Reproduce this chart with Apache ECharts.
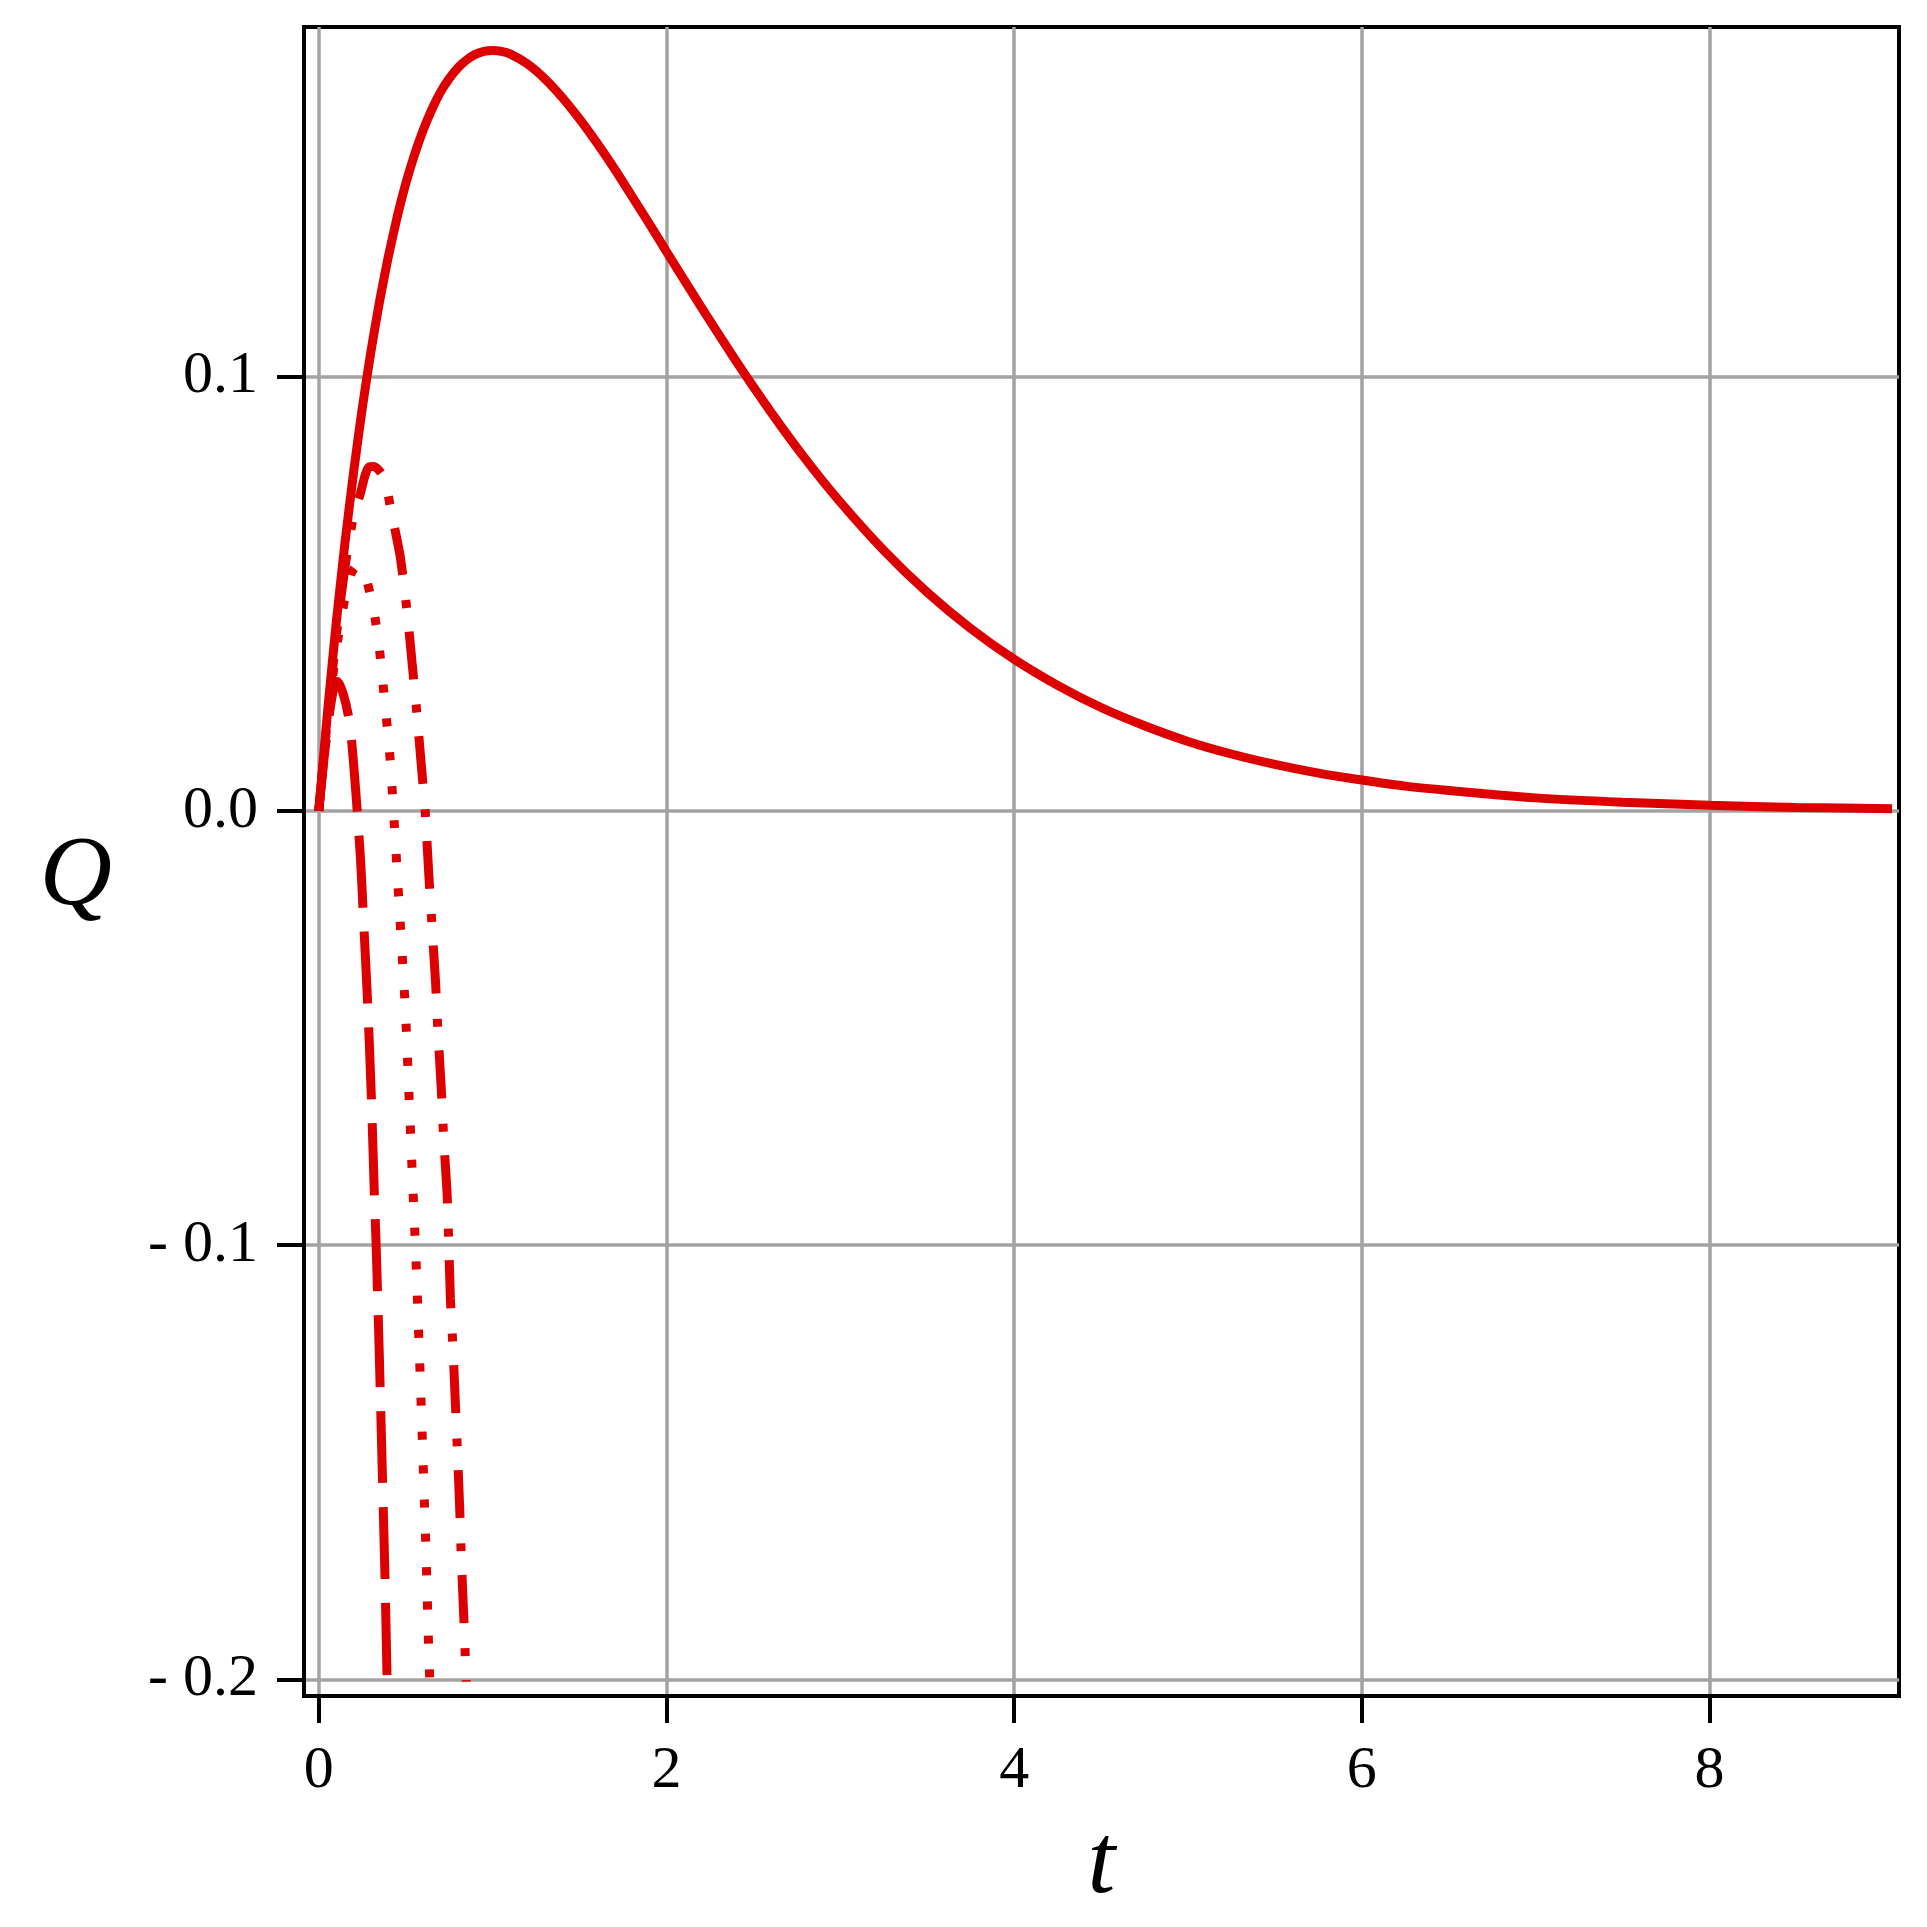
<!DOCTYPE html>
<html>
<head>
<meta charset="utf-8">
<script src="https://cdn.jsdelivr.net/npm/echarts@6/dist/echarts.min.js"></script>
<style>
  html, body { margin: 0; padding: 0; background: #fff; }
  #chart { width: 1927px; height: 1927px; }
</style>
</head>
<body>
<div id="chart"></div>
<script>
// values
const xTicks = [0, 2, 4, 6, 8]
const yTicks = [-0.2, -0.1, 0, 0.1]

const solidT = [0, 0.05, 0.1, 0.15, 0.2, 0.25, 0.3, 0.35, 0.4, 0.45, 0.5, 0.55, 0.6, 0.65, 0.7, 0.75, 0.8, 0.85, 0.9, 0.95,
  1.0, 1.05, 1.1, 1.2, 1.3, 1.4, 1.5, 1.6, 1.7, 1.8, 1.9, 2.0, 2.2, 2.4, 2.6, 2.8, 3.0, 3.25, 3.5, 3.75, 4.0,
  4.25, 4.5, 4.75, 5.0, 5.25, 5.5, 5.75, 6.0, 6.25, 6.5, 7.0, 7.5, 8.0, 8.5, 9.05]
const solidQ = [0, 0.0226, 0.0431, 0.0615, 0.0779, 0.0927, 0.1058, 0.1174, 0.1276, 0.1366, 0.1444, 0.151, 0.1567, 0.1615, 0.1655, 0.1686, 0.1711, 0.1729, 0.1742, 0.1749,
  0.1751, 0.1749, 0.1743, 0.172, 0.1686, 0.1643, 0.1593, 0.1538, 0.1479, 0.1416, 0.1353, 0.1288, 0.116, 0.1036, 0.0919, 0.081, 0.0711, 0.06, 0.0503, 0.042, 0.0349,
  0.0289, 0.0238, 0.0196, 0.016, 0.0131, 0.0107, 0.0087, 0.0071, 0.0057, 0.0047, 0.003, 0.002, 0.0013, 0.0008, 0.0005]

const dashT = [0, 0.03, 0.06, 0.085, 0.11, 0.14, 0.17, 0.19, 0.205, 0.221, 0.24, 0.255, 0.282, 0.303, 0.32, 0.33, 0.348, 0.364, 0.38, 0.393]
const dashQ = [0, 0.012, 0.022, 0.028, 0.0298, 0.027, 0.022, 0.0156, 0.0085, 0, -0.011, -0.023, -0.045, -0.0665, -0.0888, -0.1, -0.125, -0.15, -0.175, -0.2]

const dotT = [0, 0.05, 0.1, 0.15, 0.19, 0.22, 0.25, 0.27, 0.295, 0.316, 0.345, 0.365, 0.384, 0.403, 0.417, 0.43,
  0.464, 0.499, 0.523, 0.548, 0.556, 0.578, 0.598, 0.617, 0.633, 0.64]
const dotQ = [0, 0.021, 0.037, 0.049, 0.055, 0.0565, 0.0555, 0.054, 0.05, 0.0463, 0.0386, 0.031, 0.0233, 0.0156, 0.008, 0,
  -0.0229, -0.0464, -0.0695, -0.093, -0.1, -0.124, -0.1475, -0.171, -0.194, -0.2016]

const dashDotT = [0, 0.05, 0.1, 0.15, 0.2, 0.24, 0.268, 0.29, 0.316, 0.34, 0.365, 0.39, 0.412, 0.44, 0.47, 0.508, 0.537, 0.566,
  0.591, 0.612, 0.633, 0.652, 0.671, 0.686, 0.704, 0.719, 0.738, 0.748, 0.757, 0.773, 0.786, 0.799, 0.811, 0.821, 0.834, 0.848]
const dashDotQ = [0, 0.0215, 0.04, 0.056, 0.068, 0.0732, 0.0775, 0.0792, 0.0793, 0.0787, 0.0774, 0.0745, 0.07, 0.0645, 0.0582, 0.0459, 0.034, 0.0217,
  0.0099, 0, -0.0147, -0.027, -0.0389, -0.0512, -0.0635, -0.0757, -0.088, -0.0999, -0.1122, -0.1245, -0.1367, -0.1488, -0.161, -0.1732, -0.1855, -0.2005]

const RED = '#dc0000'
const FONT = 'Liberation Serif'

const pairs = (xs, ys) => xs.map((x, i) => [x, ys[i]])

const lineSeries = (data, type) => ({
  type: 'line',
  data: data,
  showSymbol: false,
  smooth: 0.2,
  lineStyle: { color: RED, width: 9, type: type, cap: 'butt' },
  animation: false,
})

const myChart = echarts.init(document.getElementById('chart'))

const option = {
  backgroundColor: '#fff',
  grid: {
    left: 304, top: 27, width: 1595, height: 1669,
    show: true, borderColor: '#000', borderWidth: 4,
  },
  xAxis: {
    type: 'value',
    min: -0.085,
    max: 9.09,
    name: 't',
    nameLocation: 'middle',
    nameGap: 120,
    nameTextStyle: { fontFamily: FONT, fontStyle: 'italic', fontSize: 100, color: '#000' },
    axisLine: { show: true, onZero: false, lineStyle: { color: '#000', width: 4 } },
    axisTick: { show: true, length: 27, customValues: xTicks, lineStyle: { color: '#000', width: 4 } },
    axisLabel: {
      customValues: xTicks, margin: 45,
      fontFamily: FONT, fontSize: 60, color: '#000',
    },
    splitLine: { show: true, lineStyle: { color: '#a3a3a3', width: 3.5 } },
  },
  yAxis: {
    type: 'value',
    min: -0.2038,
    max: 0.1805,
    name: 'Q',
    nameLocation: 'middle',
    nameRotate: 0,
    nameGap: 192,
    nameTextStyle: {
      fontFamily: FONT, fontStyle: 'italic', fontSize: 100, color: '#000',
      verticalAlign: 'top', lineHeight: 32,
    },
    axisLine: { show: true, onZero: false, lineStyle: { color: '#000', width: 4 } },
    axisTick: { show: true, length: 27, customValues: yTicks, lineStyle: { color: '#000', width: 4 } },
    axisLabel: {
      customValues: yTicks, margin: 46,
      fontFamily: FONT, fontSize: 60, color: '#000',
      formatter: (v) => (v < 0 ? '- ' + Math.abs(v).toFixed(1) : v.toFixed(1)),
    },
    splitLine: { show: true, lineStyle: { color: '#a3a3a3', width: 3.5 } },
  },
  series: [
    lineSeries(pairs(solidT, solidQ), 'solid'),
    lineSeries(pairs(dashT, dashQ), [72, 24]),
    lineSeries(pairs(dotT, dotQ), [8, 26]),
    lineSeries(pairs(dashDotT, dashDotQ), [48, 25, 8, 24]),
  ],
}

myChart.setOption(option)
</script>
</body>
</html>
